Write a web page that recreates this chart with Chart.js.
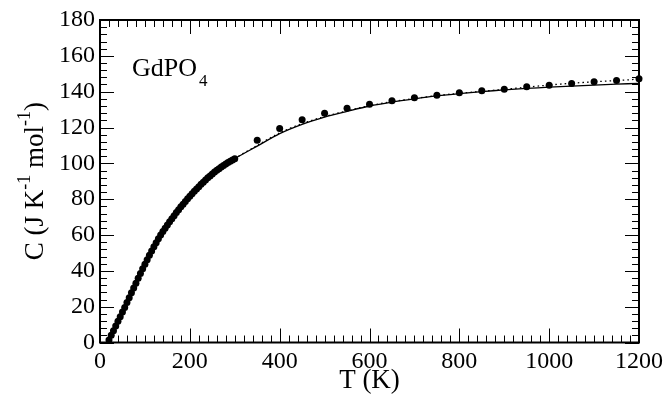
<!DOCTYPE html>
<html>
<head>
<meta charset="utf-8">
<script src="https://cdn.jsdelivr.net/npm/chart.js@4.4.1/dist/chart.umd.min.js"></script>
<style>
  html, body { margin: 0; padding: 0; background: #fff; }
  #wrap { width: 668px; height: 399px; }
</style>
</head>
<body>
<div id="wrap"><canvas id="heat"></canvas></div>
<script>
// measured points : T (K) and C (J/K/mol)
const tMeas = [20, 25, 30, 35, 40, 45, 50, 55, 60, 65, 70, 75, 80, 85, 90, 95, 100,
  105, 110, 115, 120, 125, 130, 135, 140, 145, 150, 155, 160, 165, 170, 175, 180,
  185, 190, 195, 200, 205, 210, 215, 220, 225, 230, 235, 240, 245, 250, 255, 260,
  265, 270, 275, 280, 285, 290, 295, 300,
  350, 400, 450, 500, 550, 600, 650, 700, 750, 800, 850, 900, 950, 1000, 1050,
  1100, 1150, 1200];
const cMeas = [1.4, 4.0, 6.6, 9.2, 11.8, 14.4, 17.0, 19.6, 22.3, 25.0, 27.7, 30.4,
  33.1, 35.8, 38.5, 41.1, 43.7, 46.2, 48.7, 51.1, 53.4, 55.7, 57.9, 60.0, 62.0,
  63.8, 65.6, 67.4, 69.1, 70.8, 72.5, 74.1, 75.7, 77.2, 78.7, 80.2, 81.6, 83.0,
  84.4, 85.7, 87.0, 88.3, 89.5, 90.7, 91.9, 93.0, 94.1, 95.1, 96.1, 97.0, 97.9,
  98.8, 99.6, 100.4, 101.2, 101.9, 102.6,
  112.9, 119.5, 124.3, 128.0, 130.8, 133.0, 134.9, 136.6, 138.0, 139.4, 140.5,
  141.4, 142.7, 143.6, 144.6, 145.5, 146.2, 147.2];

// fit curve (solid)
const tFit = [20, 40, 60, 80, 100, 125, 150, 175, 200, 225, 250, 275, 300, 350, 400,
  450, 500, 550, 600, 650, 700, 750, 800, 850, 900, 950, 1000, 1050, 1100, 1150, 1200];
const cFit = [1.4, 11.8, 22.3, 33.1, 43.7, 55.7, 65.6, 74.1, 81.6, 88.3, 94.1, 98.8,
  102.6, 109.6, 116.6, 121.8, 125.8, 129.0, 132.0, 134.2, 136.0, 137.6, 138.9, 140.0,
  141.0, 141.8, 142.5, 143.1, 143.7, 144.2, 144.6];

// second curve (dotted)
const tDot = [300, 350, 400, 450, 500, 550, 600, 650, 700, 750, 800, 850, 900, 950,
  1000, 1050, 1100, 1150, 1200];
const cDot = [102.8, 110.0, 117.0, 122.2, 126.1, 129.3, 132.2, 134.4, 136.2, 137.8,
  139.1, 140.2, 141.3, 142.5, 143.7, 144.7, 145.5, 146.2, 147.0];

const xTicks = [0, 200, 400, 600, 800, 1000, 1200];
const yTicks = [0, 20, 40, 60, 80, 100, 120, 140, 160, 180];

const serif = "'Liberation Serif', 'Times New Roman', serif";

function pairs(xs, ys) {
  return xs.map((x, i) => ({x: x, y: ys[i]}));
}

// cadre + graduations vers l'intérieur, titre Y, étiquette
const frame = {
  id: "frame",
  afterDraw(chart) {
    const ctx = chart.ctx;
    const a = chart.chartArea;
    const sx = chart.scales.x, sy = chart.scales.y;
    ctx.save();
    ctx.strokeStyle = "#000";
    ctx.lineWidth = 1;
    ctx.beginPath();
    for (let v = 0; v <= 1200; v += 20) {
      const px = Math.round(sx.getPixelForValue(v)) + 0.5;
      const len = (v % 200 === 0) ? 14 : 7;
      ctx.moveTo(px, a.bottom); ctx.lineTo(px, a.bottom - len);
      ctx.moveTo(px, a.top); ctx.lineTo(px, a.top + len);
    }
    for (let v = 0; v <= 180; v += 4) {
      const py = Math.round(sy.getPixelForValue(v)) + 0.5;
      const len = (v % 20 === 0) ? 14 : 7;
      ctx.moveTo(a.left, py); ctx.lineTo(a.left + len, py);
      ctx.moveTo(a.right, py); ctx.lineTo(a.right - len, py);
    }
    ctx.stroke();
    ctx.lineWidth = 2;
    ctx.strokeRect(a.left, a.top, a.right - a.left, a.bottom - a.top);

    // GdPO4
    ctx.fillStyle = "#000";
    ctx.textBaseline = "alphabetic";
    ctx.textAlign = "left";
    ctx.font = "26px " + serif;
    ctx.fillText("GdPO", 132, 76);
    const w = ctx.measureText("GdPO").width;
    ctx.font = "17px " + serif;
    ctx.fillText("4", 132 + w + 2, 86);

    // titre Y avec exposants
    const parts = [["C (J K", false], ["-1", true], [" mol", false], ["-1", true], [")", false]];
    const big = "27px " + serif, small = "18px " + serif;
    let total = 0;
    parts.forEach(p => { ctx.font = p[1] ? small : big; total += ctx.measureText(p[0]).width; });
    ctx.translate(43, (a.top + a.bottom) / 2);
    ctx.rotate(-Math.PI / 2);
    let x = -total / 2;
    parts.forEach(p => {
      ctx.font = p[1] ? small : big;
      ctx.fillText(p[0], x, p[1] ? -13 : 0);
      x += ctx.measureText(p[0]).width;
    });
    ctx.restore();
  }
};

new Chart(document.getElementById("heat"), {
  type: "scatter",
  data: {
    datasets: [
      {
        label: "fit",
        data: pairs(tFit, cFit),
        showLine: true,
        borderColor: "#000",
        borderWidth: 1.3,
        pointRadius: 0,
        tension: 0.3
      },
      {
        label: "fit2",
        data: pairs(tDot, cDot),
        showLine: true,
        borderColor: "#000",
        borderWidth: 1.3,
        borderDash: [1.5, 3],
        pointRadius: 0,
        tension: 0.3
      },
      {
        label: "exp",
        data: pairs(tMeas, cMeas),
        showLine: false,
        pointRadius: 3.5,
        pointBackgroundColor: "#000",
        pointBorderColor: "#000",
        pointBorderWidth: 0,
        clip: false
      }
    ]
  },
  options: {
    responsive: true,
    maintainAspectRatio: false,
    animation: false,
    layout: { padding: { top: 20, right: 28, left: 0, bottom: 0 } },
    plugins: {
      legend: { display: false },
      tooltip: { enabled: false }
    },
    scales: {
      x: {
        type: "linear",
        min: 0, max: 1200,
        afterBuildTicks: s => { s.ticks = xTicks.map(v => ({value: v})); },
        afterFit: s => { s.height = 56.5; },
        grid: { display: false, drawTicks: false },
        border: { display: false },
        ticks: { color: "#000", font: { family: serif, size: 24 }, padding: 5, maxRotation: 0,
                 callback: v => String(v) },
        title: { display: true, text: "T (K)", color: "#000",
                 font: { family: serif, size: 27 }, padding: { top: 0, bottom: 2 } }
      },
      y: {
        type: "linear",
        min: 0, max: 180,
        afterBuildTicks: s => { s.ticks = yTicks.map(v => ({value: v})); },
        afterFit: s => { s.width = 100; },
        grid: { display: false, drawTicks: false },
        border: { display: false },
        ticks: { color: "#000", font: { family: serif, size: 24 }, padding: 5,
                 callback: v => String(v) }
      }
    }
  },
  plugins: [frame]
});
</script>
</body>
</html>
